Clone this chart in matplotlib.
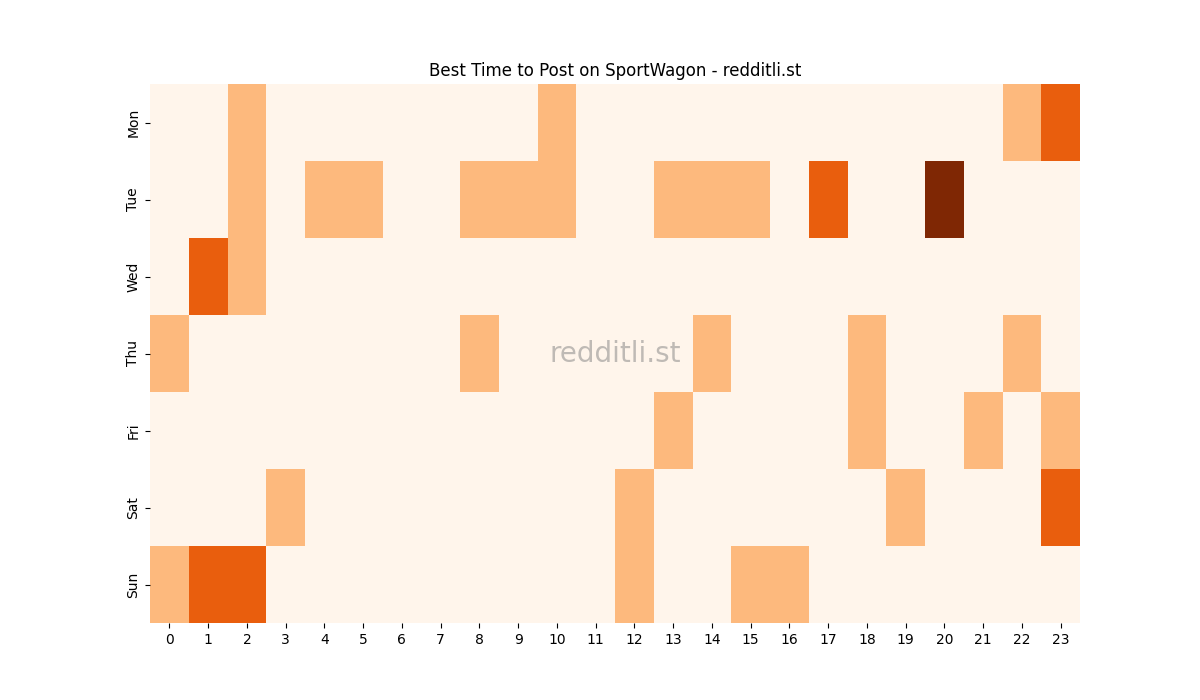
import numpy as np
import pandas as pd
import matplotlib
matplotlib.use('Agg')
import matplotlib.pyplot as plt
import seaborn as sns

days = ['Mon', 'Tue', 'Wed', 'Thu', 'Fri', 'Sat', 'Sun']
hours = list(range(24))

# post score per hour, one list per day
mon = [0, 0, 1, 0, 0, 0, 0, 0, 0, 0, 1, 0, 0, 0, 0, 0, 0, 0, 0, 0, 0, 0, 1, 2]
tue = [0, 0, 1, 0, 1, 1, 0, 0, 1, 1, 1, 0, 0, 1, 1, 1, 0, 2, 0, 0, 3, 0, 0, 0]
wed = [0, 2, 1, 0, 0, 0, 0, 0, 0, 0, 0, 0, 0, 0, 0, 0, 0, 0, 0, 0, 0, 0, 0, 0]
thu = [1, 0, 0, 0, 0, 0, 0, 0, 1, 0, 0, 0, 0, 0, 1, 0, 0, 0, 1, 0, 0, 0, 1, 0]
fri = [0, 0, 0, 0, 0, 0, 0, 0, 0, 0, 0, 0, 0, 1, 0, 0, 0, 0, 1, 0, 0, 1, 0, 1]
sat = [0, 0, 0, 1, 0, 0, 0, 0, 0, 0, 0, 0, 1, 0, 0, 0, 0, 0, 0, 1, 0, 0, 0, 2]
sun = [1, 2, 2, 0, 0, 0, 0, 0, 0, 0, 0, 0, 1, 0, 0, 1, 1, 0, 0, 0, 0, 0, 0, 0]

df = pd.DataFrame([mon, tue, wed, thu, fri, sat, sun], index=days, columns=hours)

fig, ax = plt.subplots(figsize=(12, 7))
sns.heatmap(df, cmap='Oranges', cbar=False, ax=ax)
ax.set_title('Best Time to Post on SportWagon - redditli.st')
ax.set_yticklabels(days, rotation=90, va='center')
ax.set_xticklabels(hours, rotation=0)

# watermark
ax.text(0.5, 0.5, 'redditli.st', transform=ax.transAxes, fontsize=20,
        color='gray', alpha=0.5, ha='center', va='center')

plt.savefig('out.png', dpi=100)
